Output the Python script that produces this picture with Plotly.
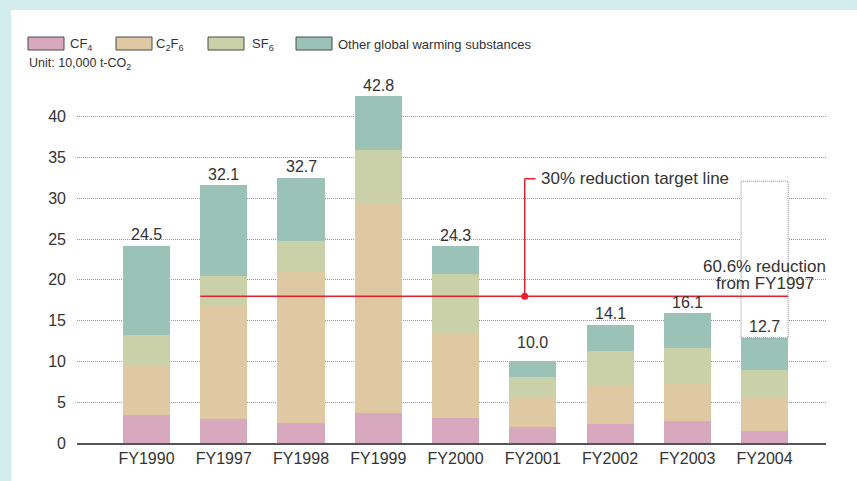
import plotly.graph_objects as go

# ---------------- data ----------------
CATEGORIES = ["FY1990", "FY1997", "FY1998", "FY1999", "FY2000", "FY2001", "FY2002", "FY2003", "FY2004"]
CF4 = [3.4, 2.9, 2.5, 3.7, 3.1, 2.0, 2.3, 2.7, 1.5]
C2F6 = [6.0, 14.0, 18.5, 25.7, 10.4, 3.6, 4.7, 4.6, 4.1]
SF6 = [3.9, 3.6, 3.8, 6.5, 7.2, 2.5, 4.3, 4.4, 3.4]
OTHER = [10.9, 11.1, 7.7, 6.6, 3.4, 1.9, 3.2, 4.2, 3.9]
TOTAL_LABELS = ["24.5", "32.1", "32.7", "42.8", "24.3", "10.0", "14.1", "16.1", "12.7"]
SERIES_NAMES = ["CF<sub>4</sub>", "C<sub>2</sub>F<sub>6</sub>", "SF<sub>6</sub>", "Other global warming substances"]
Y_TICKS = [0, 5, 10, 15, 20, 25, 30, 35, 40]
TARGET_VALUE = 18.0
FY1997_VALUE = 32.1
TARGET_TEXT = "30% reduction target line"
REDUCTION_TEXT = ["60.6% reduction", "from FY1997"]
UNIT_TEXT = "Unit: 10,000 t-CO<sub>2</sub>"

# ---------------- style ----------------
COLORS = ["#d7a8be", "#dfc9a2", "#cad1a8", "#9ac2b6"]
FONT = "Liberation Sans, Arial, Helvetica, sans-serif"
TXT = "#333333"
RED = "#e8202e"
BAR_W = 0.61
W, H = 857, 481
ML, MR, MT, MB = 77, 31, 76, 38
PW, PH = W - ML - MR, H - MT - MB


def px_x(p):
    return (p - ML) / PW


def px_y(p):
    return (H - MB - p) / PH


fig = go.Figure()
for name, vals, col in zip(SERIES_NAMES, [CF4, C2F6, SF6, OTHER], COLORS):
    fig.add_trace(go.Bar(x=CATEGORIES, y=vals, name=name, width=BAR_W,
                         marker=dict(color=col, line=dict(width=0)),
                         hoverinfo="skip", showlegend=False))

totals = [a + b + c + d for a, b, c, d in zip(CF4, C2F6, SF6, OTHER)]

shapes = []
annotations = []

# white panel on cyan background
shapes.append(dict(type="rect", xref="paper", yref="paper", x0=px_x(11), x1=px_x(W + 5),
                   y0=px_y(H + 5), y1=px_y(10), fillcolor="white", line=dict(width=0), layer="below"))

# total labels
label_shift = {"FY2001": 19}
for cat, tot, lab in zip(CATEGORIES, totals, TOTAL_LABELS):
    annotations.append(dict(x=cat, y=tot, text=lab, showarrow=False, xanchor="center", yanchor="middle",
                            yshift=label_shift.get(cat, 11), font=dict(size=16, color=TXT, family=FONT)))

# white dotted box above FY2004
last = len(CATEGORIES) - 1
shapes.append(dict(type="rect", xref="x", yref="y", x0=last - BAR_W / 2, x1=last + BAR_W / 2,
                   y0=totals[last], y1=FY1997_VALUE, fillcolor="white",
                   line=dict(color="#8a8a8a", width=1, dash="1px,1px"), layer="above"))

# target line
shapes.append(dict(type="line", xref="x", yref="y", x0=1 - BAR_W / 2, x1=last + BAR_W / 2,
                   y0=TARGET_VALUE, y1=TARGET_VALUE, line=dict(color=RED, width=1.5), layer="above"))
# callout
cx = 4.895
top_y = 32.4
shapes.append(dict(type="line", xref="x", yref="y", x0=cx, x1=cx, y0=TARGET_VALUE, y1=top_y,
                   line=dict(color=RED, width=1.5), layer="above"))
shapes.append(dict(type="line", xref="x", yref="y", x0=cx, x1=cx + 0.14, y0=top_y, y1=top_y,
                   line=dict(color=RED, width=1.5), layer="above"))
shapes.append(dict(type="circle", xref="x", yref="y", xsizemode="pixel", ysizemode="pixel",
                   xanchor=cx, yanchor=TARGET_VALUE, x0=-3.5, x1=3.5, y0=-3.5, y1=3.5,
                   fillcolor=RED, line=dict(color=RED, width=0), layer="above"))
annotations.append(dict(x=cx + 0.19, y=top_y, text=TARGET_TEXT, showarrow=False, xanchor="left",
                        yanchor="middle", font=dict(size=17, color=TXT, family=FONT)))
annotations.append(dict(x=last, y=20.6, text=REDUCTION_TEXT[0], showarrow=False, xanchor="center",
                        yanchor="middle", yshift=9, font=dict(size=17, color=TXT, family=FONT)))
annotations.append(dict(x=last, y=20.6, text=REDUCTION_TEXT[1], showarrow=False, xanchor="center",
                        yanchor="middle", yshift=-8.5, font=dict(size=17, color=TXT, family=FONT)))

# legend
sw_x = [28, 116, 208, 296]
lab_x = [68, 154, 250, 336]
for name, col, sx, lx in zip(SERIES_NAMES, COLORS, sw_x, lab_x):
    shapes.append(dict(type="rect", xref="paper", yref="paper", x0=px_x(sx), x1=px_x(sx + 36),
                       y0=px_y(50), y1=px_y(37), fillcolor=col, line=dict(color="#4a4a4a", width=1)))
    annotations.append(dict(xref="paper", yref="paper", x=px_x(lx), y=px_y(44), text=name, showarrow=False,
                            xanchor="left", yanchor="middle", font=dict(size=13, color=TXT, family=FONT)))
annotations.append(dict(xref="paper", yref="paper", x=px_x(27), y=px_y(64), text=UNIT_TEXT, showarrow=False,
                        xanchor="left", yanchor="middle", font=dict(size=12.5, color=TXT, family=FONT)))

fig.update_layout(
    width=W, height=H, margin=dict(l=ML, r=MR, t=MT, b=MB),
    paper_bgcolor="#d3edee", plot_bgcolor="white",
    barmode="stack", bargap=0.4,
    font=dict(family=FONT, color=TXT, size=16),
    shapes=shapes, annotations=annotations, showlegend=False,
    xaxis=dict(type="category", range=[-0.90, 8.795], showgrid=False, showline=True,
               linecolor="#555555", linewidth=1.5, ticks="", tickfont=dict(size=16, color=TXT),
               fixedrange=True),
    yaxis=dict(range=[0, 45], tickvals=Y_TICKS, showgrid=True, gridcolor="#999999", griddash="1px,1px",
               gridwidth=1, zeroline=False, showline=False, ticks="", ticklabelstandoff=10,
               tickfont=dict(size=16, color=TXT), fixedrange=True),
)

fig.write_html("out.html", config={"displayModeBar": False},
               post_script="document.body.style.margin='0';document.body.style.overflow='hidden';")
